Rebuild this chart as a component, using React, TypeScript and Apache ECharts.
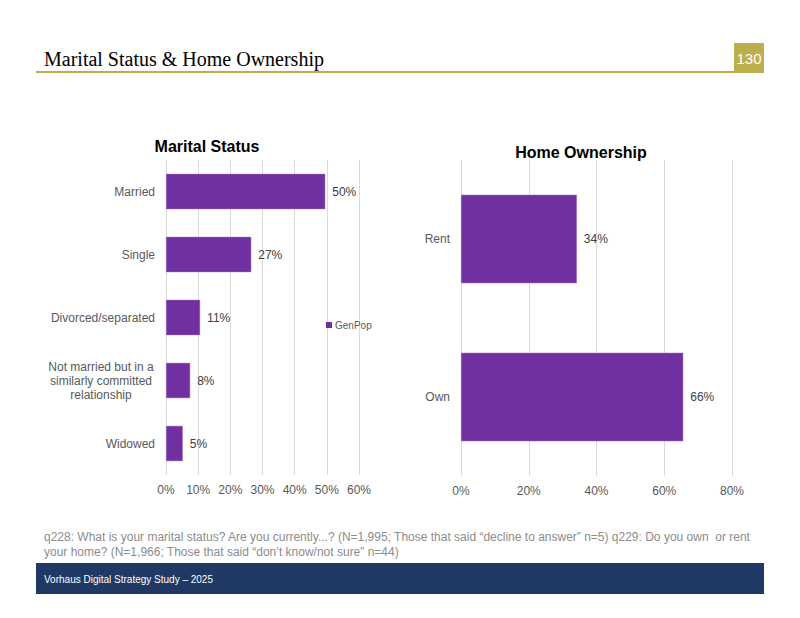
import React, { useEffect, useRef } from "react";
import * as echarts from "echarts";

const maritalCategories = [
  "Married",
  "Single",
  "Divorced/separated",
  "Not married but in a\nsimilarly committed\nrelationship",
  "Widowed",
];
const maritalValues = [49.5, 26.5, 10.6, 7.5, 5.2];
const homeCategories = ["Rent", "Own"];
const homeValues = [34.2, 65.6];
const seriesName = "GenPop";

const PURPLE = "#7030a0";
const GOLD = "#bdae4d";
const NAVY = "#1f3864";
const SANS = "'Liberation Sans', Arial, sans-serif";

export default function App() {
  const ref = useRef<HTMLDivElement>(null);
  useEffect(() => {
    if (!ref.current) return;
    const chart = echarts.init(ref.current, undefined, { renderer: "svg" });
    const axisLabel = { color: "#595959", fontSize: 12, fontFamily: SANS };
    const barLabel = {
      show: true,
      position: "right",
      distance: 7,
      color: "#404040",
      fontSize: 12,
      fontFamily: SANS,
      formatter: (p: any) => Math.round(p.value) + "%",
    };
    chart.setOption({
      animation: false,
      backgroundColor: "#ffffff",
      title: [
        {
          text: "Marital Status",
          left: 207,
          top: 138,
          padding: 0,
          textAlign: "center",
          textStyle: { fontSize: 16, fontWeight: "bold", color: "#000", fontFamily: SANS },
        },
        {
          text: "Home Ownership",
          left: 581,
          top: 144,
          padding: 0,
          textAlign: "center",
          textStyle: { fontSize: 16, fontWeight: "bold", color: "#000", fontFamily: SANS },
        },
      ],
      legend: {
        data: [seriesName],
        left: 326,
        top: 320,
        padding: 0,
        icon: "rect",
        itemWidth: 6,
        itemHeight: 6,
        itemGap: 3,
        itemStyle: { borderWidth: 0, color: PURPLE },
        textStyle: { color: "#595959", fontSize: 10, fontFamily: SANS, padding: [0, 0, 0, -2] },
      },
      grid: [
        { left: 166, right: 441, top: 160, bottom: 143 },
        { left: 461, right: 68, top: 160, bottom: 142 },
      ],
      xAxis: [
        {
          gridIndex: 0,
          type: "value",
          min: 0,
          max: 60,
          interval: 10,
          axisLabel: { ...axisLabel, formatter: "{value}%", margin: 9 },
          axisLine: { show: false },
          axisTick: { show: false },
          splitLine: { lineStyle: { color: "#d9d9d9" } },
        },
        {
          gridIndex: 1,
          type: "value",
          min: 0,
          max: 80,
          interval: 20,
          axisLabel: { ...axisLabel, formatter: "{value}%", margin: 9 },
          axisLine: { show: false },
          axisTick: { show: false },
          splitLine: { lineStyle: { color: "#d9d9d9" } },
        },
      ],
      yAxis: [
        {
          gridIndex: 0,
          type: "category",
          inverse: true,
          data: maritalCategories,
          axisLine: { show: false },
          axisTick: { show: false },
          axisLabel: {
            ...axisLabel,
            margin: 11,
            align: "right",
            formatter: (v: string) =>
              v.indexOf("\n") >= 0
                ? v
                    .split("\n")
                    .map((s) => "{c|" + s + "}")
                    .join("\n")
                : v,
            rich: {
              c: {
                width: 108,
                align: "center",
                lineHeight: 14,
                fontSize: 12,
                color: "#595959",
                fontFamily: SANS,
              },
            },
          },
        },
        {
          gridIndex: 1,
          type: "category",
          inverse: true,
          data: homeCategories,
          axisLine: { show: false },
          axisTick: { show: false },
          axisLabel: { ...axisLabel, margin: 11 },
        },
      ],
      series: [
        {
          name: seriesName,
          type: "bar",
          xAxisIndex: 0,
          yAxisIndex: 0,
          data: maritalValues,
          barCategoryGap: "44%",
          itemStyle: { color: PURPLE, borderColor: "#9b6fc4", borderWidth: 0.5 },
          label: barLabel,
        },
        {
          name: seriesName,
          type: "bar",
          xAxisIndex: 1,
          yAxisIndex: 1,
          data: homeValues,
          barCategoryGap: "44%",
          itemStyle: { color: PURPLE, borderColor: "#9b6fc4", borderWidth: 0.5 },
          label: barLabel,
        },
      ],
      graphic: [
        {
          type: "text",
          left: 44,
          top: 49,
          style: {
            text: "Marital Status & Home Ownership",
            fontSize: 20,
            fontFamily: "'Liberation Serif', 'DejaVu Serif', serif",
            fill: "#000",
          },
        },
        {
          type: "rect",
          shape: { x: 36, y: 71, width: 728, height: 2 },
          style: { fill: GOLD },
        },
        {
          type: "rect",
          shape: { x: 734, y: 43, width: 30, height: 29 },
          style: { fill: GOLD },
        },
        {
          type: "text",
          x: 749,
          y: 58,
          style: {
            text: "130",
            fontSize: 15,
            fontFamily: SANS,
            fill: "#ffffff",
            align: "center",
            verticalAlign: "middle",
          },
        },
        {
          type: "text",
          x: 44,
          y: 537,
          style: {
            text: "q228: What is your marital status? Are you currently...? (N=1,995; Those that said \u201cdecline to answer\u201d n=5) q229: Do you own  or rent",
            fontSize: 12,
            fontFamily: SANS,
            fill: "#8c8c8c",
            verticalAlign: "middle",
          },
        },
        {
          type: "text",
          x: 44,
          y: 552,
          style: {
            text: "your home? (N=1,966; Those that said \u201cdon\u2019t know/not sure\u201d n=44)",
            fontSize: 12,
            fontFamily: SANS,
            fill: "#8c8c8c",
            verticalAlign: "middle",
          },
        },
        {
          type: "rect",
          shape: { x: 36, y: 563, width: 728, height: 31 },
          style: { fill: NAVY },
        },
        {
          type: "text",
          x: 44,
          y: 579,
          style: {
            text: "Vorhaus Digital Strategy Study \u2013 2025",
            fontSize: 10,
            fontFamily: SANS,
            fill: "#ffffff",
            verticalAlign: "middle",
          },
        },
      ],
    });
    return () => chart.dispose();
  }, []);
  return (
    <div
      ref={ref}
      style={{ position: "absolute", left: 0, top: 0, width: 800, height: 618 }}
    />
  );
}
